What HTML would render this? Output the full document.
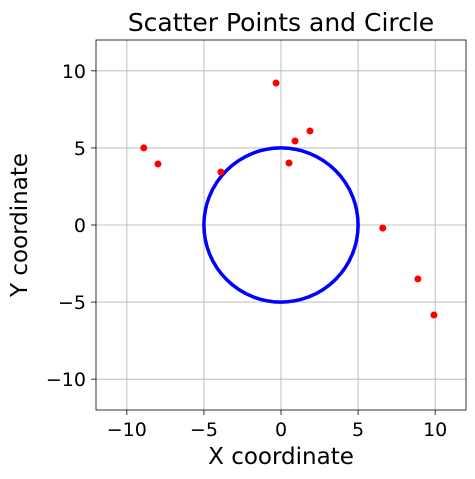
<!DOCTYPE html>
<html><head><meta charset="utf-8"><style>
body{margin:0;background:#fff;}
svg{display:block;font-family:"DejaVu Sans","Liberation Sans",sans-serif;}
</style></head><body>
<svg id="chart" width="475" height="479" viewBox="0 0 475 479"></svg>
<script>
const xTicks=[-10,-5,0,5,10];
const yTicks=[-10,-5,0,5,10];
const xTickLabels=["−10","−5","0","5","10"];
const yTickLabels=["−10","−5","0","5","10"];
const pointsX=[-8.9,-7.98,-3.9,-0.32,0.52,0.91,1.88,6.6,8.88,9.92];
const pointsY=[5.0,3.96,3.44,9.21,4.02,5.45,6.1,-0.2,-3.5,-5.84];
const circleRadius=[5];
const L=96,R=466,T=40,B=410,xmin=-12,xmax=12,ymin=-12,ymax=12;
const sx=v=>L+(v-xmin)/(xmax-xmin)*(R-L);
const sy=v=>B-(v-ymin)/(ymax-ymin)*(B-T);
const svg=document.getElementById('chart');
const NS='http://www.w3.org/2000/svg';
function mk(tag,attrs,parent){const e=document.createElementNS(NS,tag);for(const k in attrs)e.setAttribute(k,attrs[k]);(parent||svg).appendChild(e);return e;}
const grid=mk('g',{});


xTicks.forEach((t,i)=>{
 const l=mk('line',{x1:sx(t),x2:sx(t),y1:T,y2:B,stroke:'#b0b0b0','stroke-width':0.8},grid);
 
 
 const tk=mk('line',{x1:sx(t),x2:sx(t),y1:B,y2:B+5,stroke:'#000','stroke-width':0.8});
 
 
 const tx=mk('text',{x:sx(t),y:B+26,'text-anchor':'middle','font-size':19});
 tx.textContent=xTickLabels[i];
 
 
});
yTicks.forEach((t,i)=>{
 const l=mk('line',{x1:L,x2:R,y1:sy(t),y2:sy(t),stroke:'#b0b0b0','stroke-width':0.8},grid);
 
 
 const tk=mk('line',{x1:L-5,x2:L,y1:sy(t),y2:sy(t),stroke:'#000','stroke-width':0.8});
 
 
 const tx=mk('text',{x:L-10,y:sy(t)+7,'text-anchor':'end','font-size':19});
 tx.textContent=yTickLabels[i];
 
 
});
const c=mk('circle',{cx:sx(0),cy:sy(0),r:sx(circleRadius[0])-sx(0),fill:'none',stroke:'#0000ff','stroke-width':3.5});


pointsX.forEach((x,i)=>{
 const p=mk('circle',{cx:sx(x),cy:sy(pointsY[i]),r:3.5,fill:'#ff0000'});
 
 
});
const frame=mk('rect',{x:L,y:T,width:R-L,height:B-T,fill:'none',stroke:'#000','stroke-width':0.8});


const title=mk('text',{x:(L+R)/2,y:31,'text-anchor':'middle','font-size':25});
title.textContent='Scatter Points and Circle';


const xl=mk('text',{x:(L+R)/2,y:464,'text-anchor':'middle','font-size':23});
xl.textContent='X coordinate';


const yl=mk('text',{x:0,y:0,'text-anchor':'middle','font-size':23,transform:`translate(27,${(T+B)/2}) rotate(-90)`});
yl.textContent='Y coordinate';


</script>
</body></html>
